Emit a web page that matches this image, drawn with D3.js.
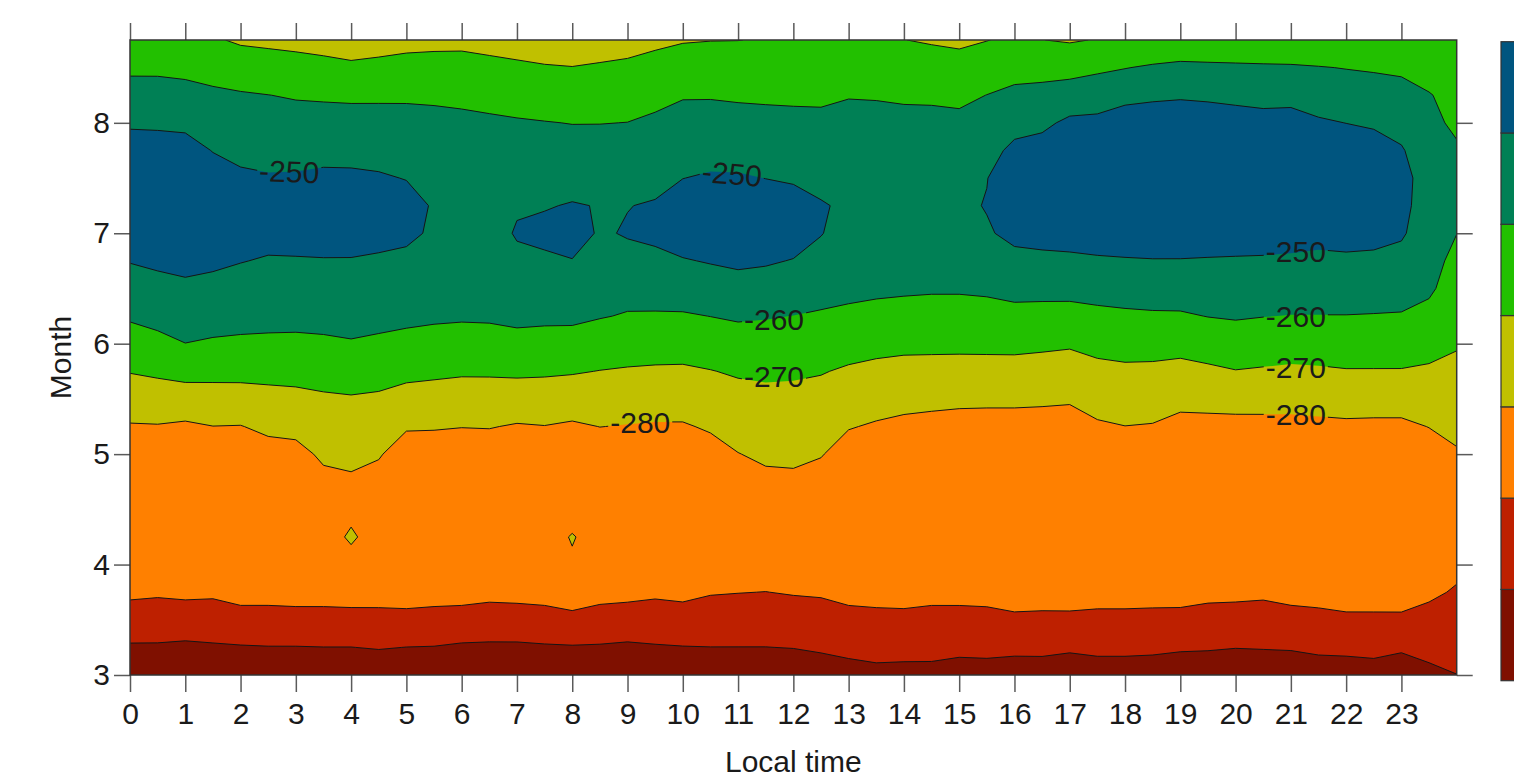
<!DOCTYPE html>
<html>
<head>
<meta charset="utf-8">
<title>Month by local time</title>
<script src="https://cdn.jsdelivr.net/npm/d3@7"></script>
<style>
  html, body { margin: 0; padding: 0; background: #fff; overflow: hidden; }
  svg { display: block; }
  text { font-family: "Liberation Sans", Arial, Helvetica, sans-serif; fill: #1a1a1a; }
</style>
</head>
<body>
<svg id="chart" width="1514" height="780"></svg>
<script>
/**
 * Data: gridded field (local time x month)
 */
const hourTicks = [0, 1, 2, 3, 4, 5, 6, 7, 8, 9, 10, 11, 12, 13, 14, 15, 16, 17, 18, 19, 20, 21, 22, 23];
const monthTicks = [3, 4, 5, 6, 7, 8];
const levels = [-300, -290, -280, -270, -260, -250];

const gridHours = [0, 0.5, 1, 1.5, 2, 2.5, 3, 3.5, 4, 4.5, 5, 5.5, 6, 6.5, 7, 7.5, 8, 8.5, 9, 9.5, 10, 10.5, 11, 11.5,
  12, 12.5, 13, 13.5, 14, 14.5, 15, 15.5, 16, 16.5, 17, 17.5, 18, 18.5, 19, 19.5, 20, 20.5, 21, 21.5, 22, 22.5, 23, 23.5, 24];
const gridMonths = [3, 3.25, 3.5, 3.75, 4, 4.25, 4.5, 4.75, 5, 5.25, 5.5, 5.75, 6, 6.25, 6.5, 6.75, 7, 7.25, 7.5, 7.75, 8, 8.25, 8.5, 8.75];

// one array per month row, values at gridHours
const row300 = [-307.4,-307.1,-308.4,-307.3,-307.5,-307.0,-307.2,-306.8,-306.9,-306.1,
  -307.1,-307.2,-308.5,-308.3,-308.6,-308.0,-308.2,-307.8,-308.3,-306.8,
  -306.5,-305.3,-305.1,-305.0,-305.0,-304.0,-303.1,-302.2,-302.5,-302.4,
  -303.4,-303.2,-304.3,-304.1,-305.3,-304.0,-304.0,-304.2,-305.3,-305.1,
  -305.7,-305.1,-305.4,-304.2,-304.3,-303.6,-305.4,-302.0,-300.1];
const row325 = [-301.0,-301.0,-301.6,-301.0,-300.6,-300.3,-300.3,-300.1,-300.1,-299.5,
  -300.1,-300.3,-301.2,-301.4,-301.4,-300.9,-300.6,-300.8,-301.4,-300.7,
  -300.3,-300.1,-300.1,-300.1,-299.8,-299.0,-297.9,-297.2,-297.3,-297.5,
  -298.1,-297.9,-298.0,-298.0,-298.7,-298.1,-298.1,-298.4,-299.0,-299.3,
  -299.8,-299.6,-299.3,-298.4,-298.0,-297.6,-298.7,-297.5,-297.0];
const row350 = [-294.6,-294.9,-294.9,-294.8,-293.6,-293.5,-293.3,-293.2,-293.1,-292.9,
  -292.9,-293.3,-293.8,-294.4,-294.3,-293.7,-293.0,-293.9,-294.4,-294.6,
  -294.0,-294.7,-294.9,-295.0,-294.6,-294.0,-292.7,-292.2,-292.1,-292.6,
  -292.8,-292.5,-291.8,-292.0,-292.1,-292.3,-292.3,-292.5,-292.8,-293.5,
  -293.8,-294.0,-293.2,-292.5,-291.8,-291.7,-291.9,-292.9,-294.0];
const row375 = [-288.2,-288.8,-288.1,-288.5,-286.7,-286.8,-286.4,-286.5,-286.1,-286.3,
  -285.7,-286.4,-286.5,-287.5,-287.1,-286.6,-284.0,-286.9,-287.5,-288.5,
  -287.8,-289.4,-289.8,-290.1,-289.4,-289.0,-287.5,-287.2,-286.9,-287.6,
  -287.4,-287.2,-285.5,-285.9,-285.5,-286.5,-286.5,-286.7,-286.5,-287.7,
  -287.9,-288.4,-287.1,-286.7,-285.5,-285.7,-285.1,-288.4,-290.9];
const row400 = [-285.5,-285.5,-285.5,-285.5,-285.5,-285.5,-285.5,-285.5,-281.3,-285.5,
  -285.5,-285.5,-285.5,-285.5,-285.5,-281.8,-280.6,-281.8,-285.5,-285.5,
  -285.5,-285.5,-285.5,-285.5,-285.5,-285.5,-285.5,-285.5,-285.5,-285.5,
  -285.5,-285.5,-285.5,-285.5,-285.5,-285.5,-285.5,-285.5,-285.5,-285.5,
  -285.5,-285.5,-285.5,-285.5,-285.5,-285.5,-285.5,-285.5,-287.8];
const row425 = [-285.5,-285.5,-285.5,-285.5,-285.5,-285.5,-285.5,-281.6,-279.5,-281.6,
  -285.5,-285.5,-285.5,-285.5,-285.5,-281.9,-279.7,-281.9,-285.5,-285.5,
  -285.5,-285.5,-285.5,-285.5,-285.5,-285.5,-285.5,-285.5,-285.5,-285.5,
  -285.5,-285.5,-285.5,-285.5,-285.5,-285.5,-285.5,-285.5,-285.5,-285.5,
  -285.5,-285.5,-285.5,-285.5,-285.5,-285.5,-285.5,-285.5,-285.5];
const row450 = [-284.5,-284.5,-284.5,-284.5,-284.5,-284.5,-284.5,-284.5,-280.9,-284.5,
  -284.5,-284.5,-284.5,-284.5,-284.5,-284.5,-282.0,-284.5,-284.5,-284.5,
  -284.5,-284.5,-284.5,-284.5,-284.5,-284.5,-284.5,-284.5,-284.5,-284.5,
  -284.5,-284.5,-284.5,-284.5,-284.5,-284.5,-284.5,-284.5,-284.5,-284.5,
  -284.5,-284.5,-284.5,-284.5,-284.5,-284.5,-284.5,-284.5,-284.5];
const row475 = [-284.5,-284.5,-284.5,-284.5,-284.5,-284.5,-284.5,-282.2,-281.3,-283.2,
  -284.5,-284.5,-284.5,-284.5,-284.5,-284.5,-284.5,-284.5,-284.5,-284.5,
  -284.5,-284.5,-284.4,-281.8,-281.5,-283.3,-284.5,-284.5,-284.5,-284.5,
  -284.5,-284.5,-284.5,-284.5,-284.5,-284.5,-284.5,-284.5,-284.5,-284.5,
  -284.5,-284.5,-284.5,-284.5,-284.5,-284.5,-284.5,-284.5,-283.8];
const row500 = [-284.5,-284.5,-284.5,-284.5,-284.5,-283.4,-282.7,-278.5,-277.7,-279.2,
  -284.5,-284.5,-284.5,-284.5,-284.5,-284.5,-284.5,-284.5,-284.5,-284.5,
  -284.5,-283.3,-280.2,-278.6,-278.4,-279.5,-283.7,-284.5,-284.5,-284.5,
  -284.5,-284.5,-284.5,-284.5,-284.5,-284.5,-284.2,-284.5,-284.5,-284.5,
  -284.5,-284.5,-284.5,-284.5,-284.5,-284.5,-284.5,-284.1,-280.8];
const row525 = [-280.7,-280.5,-281.4,-280.1,-280.3,-278.1,-277.5,-274.9,-274.2,-275.2,
  -279.1,-279.3,-279.8,-279.6,-280.7,-280.2,-281.2,-279.9,-280.4,-280.8,
  -280.8,-279.0,-276.8,-275.4,-275.3,-276.4,-279.5,-280.9,-282.0,-282.7,
  -283.3,-283.5,-283.5,-283.6,-283.9,-281.1,-280.1,-280.5,-282.6,-282.7,
  -282.8,-282.6,-282.4,-282.0,-281.6,-281.8,-281.8,-279.8,-277.9];
const row550 = [-275.1,-274.5,-274.3,-273.8,-273.7,-272.8,-272.3,-271.2,-270.7,-271.3,
  -273.2,-273.8,-274.4,-274.2,-274.6,-274.6,-275.2,-275.1,-275.6,-276.0,
  -276.0,-274.7,-273.0,-272.2,-272.3,-273.0,-275.3,-276.5,-277.4,-277.8,
  -278.2,-278.3,-278.3,-278.6,-279.0,-276.7,-275.8,-276.2,-277.6,-277.1,
  -276.5,-276.7,-277.0,-276.5,-276.0,-276.1,-276.1,-275.5,-274.9];
const row575 = [-269.6,-268.5,-267.1,-267.4,-267.4,-267.3,-267.0,-266.5,-265.8,-266.5,
  -267.7,-268.3,-268.9,-268.9,-268.5,-268.8,-269.3,-270.2,-270.8,-271.2,
  -271.3,-270.3,-269.0,-268.5,-268.8,-269.5,-271.1,-272.1,-272.8,-272.9,
  -273.1,-273.1,-273.1,-273.6,-274.1,-272.3,-271.6,-271.8,-272.6,-271.6,
  -270.3,-270.9,-271.5,-271.1,-270.5,-270.5,-270.5,-271.2,-272.0];
const row600 = [-264.1,-262.4,-260.1,-261.0,-261.4,-261.6,-261.7,-261.3,-260.6,-261.4,
  -262.3,-263.1,-263.6,-263.5,-262.4,-262.9,-263.3,-264.8,-265.7,-266.0,
  -266.2,-265.2,-264.0,-264.0,-264.4,-265.2,-266.5,-267.5,-268.0,-268.1,
  -268.1,-268.0,-267.9,-268.4,-269.0,-267.4,-266.7,-266.7,-267.1,-265.7,
  -264.6,-265.3,-265.9,-265.7,-265.3,-265.4,-265.5,-266.9,-269.3];
const row625 = [-258.9,-257.3,-255.8,-256.6,-257.2,-257.5,-257.6,-257.4,-257.1,-257.6,
  -258.2,-258.7,-259.0,-258.8,-258.2,-258.4,-258.3,-259.5,-260.6,-260.8,
  -260.8,-259.9,-258.9,-259.4,-260.1,-260.9,-261.7,-262.6,-263.1,-263.4,
  -263.4,-263.0,-262.5,-262.9,-263.1,-262.1,-261.5,-261.1,-261.0,-259.8,
  -259.2,-259.8,-260.2,-260.2,-260.2,-260.4,-260.6,-262.6,-266.9];
const row650 = [-254.3,-252.8,-251.7,-252.5,-253.4,-254.1,-254.1,-253.9,-253.7,-254.3,
  -254.9,-255.5,-256.0,-256.0,-255.0,-255.0,-254.3,-256.0,-257.1,-256.4,
  -255.7,-254.7,-253.6,-254.2,-255.2,-257.0,-257.9,-258.4,-258.8,-259.1,
  -259.1,-258.7,-257.5,-257.4,-257.3,-256.7,-256.1,-255.7,-255.6,-255.2,
  -254.9,-255.3,-255.7,-255.9,-255.8,-256.0,-256.6,-258.5,-264.6];
const row675 = [-249.6,-248.4,-247.5,-248.4,-249.7,-250.7,-250.6,-250.4,-250.4,-251.0,
  -251.7,-253.0,-254.0,-254.0,-251.5,-251.3,-250.3,-252.5,-252.4,-252.2,
  -250.6,-249.4,-248.3,-249.0,-250.4,-252.5,-255.0,-256.0,-256.5,-256.0,
  -255.5,-254.5,-252.6,-252.1,-251.8,-251.1,-250.7,-250.4,-250.4,-250.6,
  -250.7,-250.9,-251.2,-251.7,-251.4,-251.7,-253.6,-257.0,-262.3];
const row700 = [-245.0,-243.9,-243.3,-244.3,-246.0,-247.3,-247.0,-246.9,-247.1,-247.6,
  -248.4,-251.1,-252.8,-252.8,-249.4,-248.0,-246.5,-250.9,-249.4,-248.0,
  -245.5,-244.0,-243.0,-243.8,-245.6,-249.7,-253.0,-254.5,-254.8,-254.0,
  -253.0,-251.0,-247.6,-246.8,-246.2,-245.6,-245.2,-245.1,-245.2,-245.9,
  -246.5,-246.4,-246.8,-247.5,-247.0,-247.4,-248.6,-256.5,-259.9];
const row725 = [-240.4,-239.4,-239.1,-242.3,-245.1,-245.8,-245.3,-244.3,-244.4,-245.2,
  -246.8,-250.8,-252.5,-253.0,-250.7,-250.5,-249.5,-250.3,-250.2,-249.3,
  -246.5,-245.3,-245.3,-246.3,-247.3,-248.5,-253.0,-254.0,-254.2,-253.2,
  -252.0,-249.5,-242.7,-241.5,-240.7,-240.0,-240.0,-240.0,-240.0,-241.3,
  -242.2,-241.9,-242.3,-243.2,-242.7,-243.1,-246.6,-256.0,-257.5];
const row750 = [-240.8,-241.2,-241.5,-246.3,-248.6,-249.3,-249.1,-248.4,-248.5,-249.1,
  -250.3,-252.0,-253.5,-254.0,-252.0,-252.0,-253.0,-252.5,-253.0,-252.4,
  -250.1,-249.1,-249.2,-250.1,-250.8,-255.5,-254.0,-254.5,-254.5,-253.5,
  -252.5,-250.3,-243.0,-241.3,-240.0,-240.0,-240.0,-240.0,-240.0,-240.0,
  -240.0,-240.0,-240.0,-240.0,-240.0,-241.7,-245.5,-256.3,-257.0];
const row775 = [-246.0,-246.3,-246.7,-250.3,-252.1,-252.8,-252.9,-252.5,-252.6,-253.0,
  -253.8,-254.0,-255.0,-255.5,-254.0,-254.5,-256.6,-256.0,-256.5,-255.5,
  -253.5,-252.9,-253.1,-253.7,-254.4,-257.0,-255.5,-256.0,-255.8,-255.0,
  -254.0,-253.0,-248.0,-246.6,-240.9,-241.1,-240.0,-240.0,-240.0,-240.0,
  -240.0,-241.0,-240.3,-243.6,-244.9,-246.4,-249.0,-257.0,-259.0];
const row800 = [-251.2,-251.4,-251.9,-254.3,-255.6,-256.3,-256.7,-256.6,-256.7,-256.9,
  -257.2,-257.5,-258.0,-258.6,-259.2,-259.7,-260.2,-260.2,-259.9,-258.5,
  -257.0,-256.7,-257.0,-257.5,-257.9,-258.7,-257.5,-257.5,-257.6,-257.4,
  -258.0,-256.5,-253.0,-251.9,-248.2,-247.8,-245.2,-244.6,-244.3,-245.0,
  -246.0,-246.9,-246.5,-248.9,-250.1,-251.1,-254.0,-258.0,-261.5];
const row825 = [-256.4,-256.5,-257.1,-258.4,-259.2,-259.9,-260.7,-261.1,-261.4,-261.3,
  -261.2,-261.5,-262.0,-262.8,-263.7,-264.5,-265.0,-264.7,-264.1,-262.4,
  -260.6,-260.6,-261.1,-261.3,-261.4,-261.0,-260.4,-260.6,-261.2,-261.5,
  -261.9,-259.9,-258.0,-257.2,-255.6,-254.6,-252.7,-251.7,-251.1,-251.6,
  -252.3,-252.9,-252.8,-254.3,-255.1,-255.9,-257.0,-259.5,-263.0];
const row850 = [-261.6,-261.6,-262.2,-263.4,-265.0,-266.0,-266.8,-267.6,-268.6,-267.9,
  -267.1,-266.9,-267.0,-267.8,-268.6,-269.4,-269.8,-269.1,-268.4,-267.0,
  -265.6,-265.4,-265.6,-265.4,-265.0,-264.5,-264.0,-263.8,-265.6,-266.1,
  -266.7,-265.1,-263.2,-263.2,-263.2,-261.6,-260.3,-258.9,-257.8,-258.2,
  -258.5,-258.8,-259.0,-259.6,-260.3,-260.9,-261.5,-263.8,-264.5];
const row875 = [-266.6,-266.6,-267.2,-269.0,-271.2,-271.8,-272.4,-273.2,-274.0,-273.4,
  -272.6,-272.2,-272.0,-272.8,-273.6,-274.4,-274.8,-274.0,-273.2,-271.8,
  -270.6,-270.2,-270.1,-269.5,-268.5,-268.0,-267.5,-267.0,-269.9,-270.8,
  -271.6,-270.2,-268.5,-269.9,-270.8,-269.6,-268.5,-268.0,-267.5,-267.5,
  -267.5,-267.5,-267.5,-267.8,-268.0,-268.5,-269.0,-268.5,-266.0];

const monthRows = [row300, row325, row350, row375, row400, row425, row450, row475, row500, row525,
  row550, row575, row600, row625, row650, row675, row700, row725, row750, row775,
  row800, row825, row850, row875];

// labelled contours
const labelLevels = [-250, -250, -250, -260, -260, -270, -270, -280, -280];
const labelHours = [2.88, 10.89, 21.09, 11.65, 21.09, 11.65, 21.09, 9.23, 21.09];
const labelMonths = [7.56, 7.54, 6.84, 6.22, 6.25, 5.71, 5.79, 5.29, 5.36];
const labelAngles = [2, 5, 0, 0, 0, 0, 0, 0, 0];

// colours from lowest band (< -300) to highest (>= -250)
const bandColors = ["#7f1000", "#be2000", "#ff8000", "#c0c000", "#22c000", "#008055", "#00557f"];

/**
 * Scales
 */
const svg = d3.select("#chart");
const plotLeft = 130, plotRight = 1456.7, plotTop = 40, plotBottom = 675;

const x = d3.scaleLinear().domain([0, 24]).range([plotLeft, plotRight]);
const y = d3.scaleLinear().domain([3, 8.75]).range([plotBottom, plotTop]);

const nx = gridHours.length, ny = gridMonths.length;
// d3.contours puts sample i at grid coordinate i + 0.5
const gx = d3.scaleLinear().domain([0.5, nx - 0.5]).range([x(gridHours[0]), x(gridHours[nx - 1])]);
const gy = d3.scaleLinear().domain([0.5, ny - 0.5]).range([y(gridMonths[0]), y(gridMonths[ny - 1])]);
const gridPath = d3.geoPath(d3.geoTransform({
  point(px, py) { this.stream.point(gx(px), gy(py)); }
}));

const bands = d3.contours().size([nx, ny]).thresholds(levels)(monthRows.flat());

const defs = svg.append("defs");
defs.append("clipPath").attr("id", "plotClip")
  .append("rect")
  .attr("x", plotLeft).attr("y", plotTop)
  .attr("width", plotRight - plotLeft).attr("height", plotBottom - plotTop);

const gapMask = defs.append("mask").attr("id", "labelGap")
  .attr("maskUnits", "userSpaceOnUse")
  .attr("x", 0).attr("y", 0).attr("width", 1514).attr("height", 780);
gapMask.append("rect").attr("width", 1514).attr("height", 780).attr("fill", "white");

/**
 * Filled bands
 */
const fillG = svg.append("g").attr("clip-path", "url(#plotClip)");
fillG.append("rect")
  .attr("x", plotLeft).attr("y", plotTop)
  .attr("width", plotRight - plotLeft).attr("height", plotBottom - plotTop)
  .attr("fill", bandColors[0]);
fillG.selectAll("path")
  .data(bands)
  .enter()
  .append("path")
  .attr("d", gridPath)
  .attr("fill", (d, i) => bandColors[i + 1]);

/**
 * Contour lines (broken under the labels)
 */
svg.append("g").attr("clip-path", "url(#plotClip)")
  .append("g").attr("mask", "url(#labelGap)")
  .selectAll("path")
  .data(bands)
  .enter()
  .append("path")
  .attr("d", gridPath)
  .attr("fill", "none")
  .attr("stroke", "#151515")
  .attr("stroke-width", 1)
  .attr("stroke-linejoin", "round");

const labels = svg.append("g")
  .selectAll("text")
  .data(labelLevels)
  .enter()
  .append("text")
  .attr("transform", (d, i) => `translate(${x(labelHours[i])},${y(labelMonths[i])}) rotate(${labelAngles[i]})`)
  .attr("text-anchor", "middle")
  .attr("dy", "0.36em")
  .attr("font-size", 30)
  .attr("fill", "#111")
  .text(d => String(d));

labels.each(function () {
  const b = this.getBBox();
  gapMask.append("rect")
    .attr("transform", d3.select(this).attr("transform"))
    .attr("x", b.x - 2).attr("y", b.y + 3)
    .attr("width", b.width + 4).attr("height", b.height - 6)
    .attr("fill", "black");
});

/**
 * Axes
 */
const tickColor = "#5a5a5a";
function styleAxis(g) {
  g.select(".domain").remove();
  g.attr("font-family", null).attr("font-size", 30);
  g.selectAll("line").attr("stroke", tickColor).attr("stroke-width", 1.5);
  g.selectAll("text").attr("fill", "#1a1a1a");
}

svg.append("g")
  .attr("transform", `translate(0,${plotBottom})`)
  .call(d3.axisBottom(x).tickValues(hourTicks).tickSize(17).tickPadding(11).tickFormat(d => d))
  .call(styleAxis);

svg.append("g")
  .attr("transform", `translate(0,${plotTop})`)
  .call(d3.axisTop(x).tickValues(hourTicks).tickSize(17).tickFormat(""))
  .call(styleAxis);

svg.append("g")
  .attr("transform", `translate(${plotLeft},0)`)
  .call(d3.axisLeft(y).tickValues(monthTicks).tickSize(16).tickPadding(4).tickFormat(d => d))
  .call(styleAxis);

svg.append("g")
  .attr("transform", `translate(${plotRight},0)`)
  .call(d3.axisRight(y).tickValues(monthTicks).tickSize(16).tickFormat(""))
  .call(styleAxis);

// frame
svg.append("rect")
  .attr("x", plotLeft).attr("y", plotTop)
  .attr("width", plotRight - plotLeft).attr("height", plotBottom - plotTop)
  .attr("fill", "none").attr("stroke", "#333").attr("stroke-width", 1.5);

svg.append("text")
  .attr("x", (plotLeft + plotRight) / 2)
  .attr("y", 771.5)
  .attr("text-anchor", "middle")
  .attr("font-size", 30)
  .text("Local time");

svg.append("text")
  .attr("transform", `translate(71,${(plotTop + plotBottom) / 2}) rotate(-90)`)
  .attr("text-anchor", "middle")
  .attr("font-size", 30)
  .text("Month");

/**
 * Colour key (cut by the right page edge)
 */
const keyScale = d3.scaleBand()
  .domain(bandColors.map((c, i) => i).reverse())
  .range([41.7, 680.7]);

svg.append("g")
  .selectAll("rect")
  .data(bandColors)
  .enter()
  .append("rect")
  .attr("x", 1501)
  .attr("y", (d, i) => keyScale(i))
  .attr("width", 60)
  .attr("height", keyScale.bandwidth())
  .attr("fill", d => d)
  .attr("stroke", "#333")
  .attr("stroke-width", 1.2);
</script>
</body>
</html>
